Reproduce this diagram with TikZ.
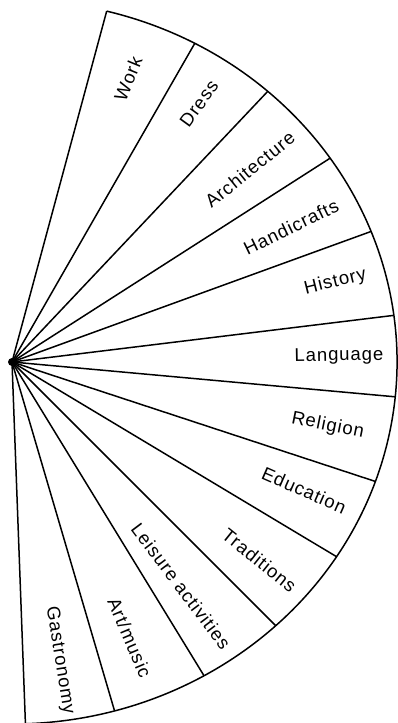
\documentclass[tikz,border=0pt]{standalone}
\usepackage{fontspec}
\setmainfont[LetterSpace=5]{Liberation Sans}

\begin{document}
\begin{tikzpicture}[x=1pt, y=1pt, line width=1.5pt, line join=round,
  sector/.style={font=\fontsize{18.5}{20}\selectfont, inner sep=0pt}]

  % frame of the picture
  \useasboundingbox (0,0) rectangle (398,723);
  \clip (0,0) rectangle (398,723);

  % half axes of the outer rim
  \def\rx{385}
  \def\ry{362}

  % apex of the fan
  \coordinate (O) at (12,361);

  % points on the rim
  \foreach \t [count=\i] in {75.76,61.66,48.38,34.27,21.14,7.40,-5.52,-19.27,-32.54,-46.76,-60.08,-74.55,-88}
    \path (O) ++(\t:{\rx} and {\ry}) coordinate (e\i);

  % outer rim
  \draw (e1) arc[start angle=75.76, end angle=-88, x radius=\rx, y radius=\ry];

  % spokes
  \foreach \i in {1,...,13}
    \draw (O) -- (e\i);

  \fill (O) circle (4);

  % sector names
  \foreach \name/\a/\d [count=\i] in {Work/67.7/306, Dress/54.1/319,
      Architecture/39/306, Handicrafts/25.8/310, History/13.9/333,
      Language/1/327, Religion/-11.4/322, Education/-23.7/319,
      Traditions/-38.7/317, Leisure activities/-53/281,
      {Art/music}/-66.9/300, Gastronomy/-80.9/302}
    \path (O) ++(\a:\d) node[sector, rotate=\a] (s\i) {\name};

\end{tikzpicture}
\end{document}
